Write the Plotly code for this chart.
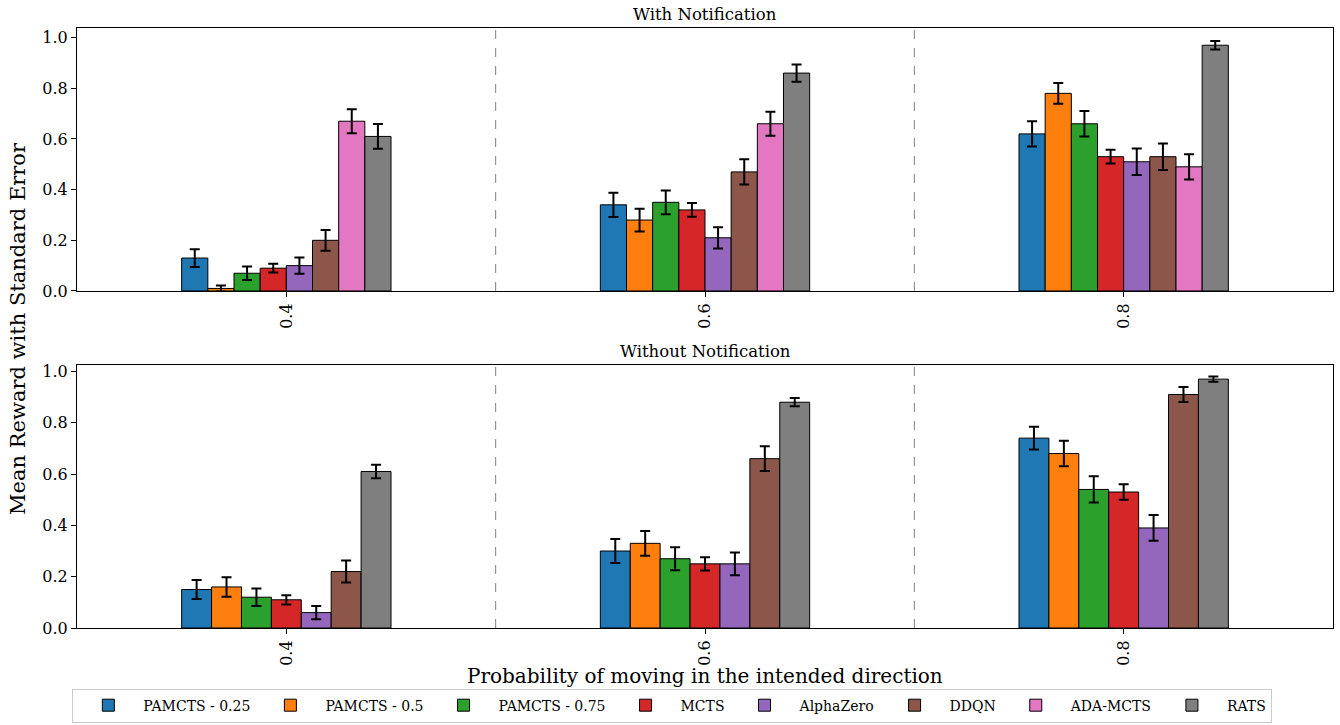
import plotly.graph_objects as go
from plotly.subplots import make_subplots

groups = ["0.4", "0.6", "0.8"]
methods_top = ["PAMCTS - 0.25", "PAMCTS - 0.5", "PAMCTS - 0.75", "MCTS", "AlphaZero", "DDQN", "ADA-MCTS", "RATS"]
colors = {"PAMCTS - 0.25": "#1f77b4", "PAMCTS - 0.5": "#ff7f0e", "PAMCTS - 0.75": "#2ca02c",
          "MCTS": "#d62728", "AlphaZero": "#9467bd", "DDQN": "#8c564b", "ADA-MCTS": "#e377c2", "RATS": "#7f7f7f"}

# With Notification (top)
top_mean = {
    "PAMCTS - 0.25": [0.13, 0.34, 0.62],
    "PAMCTS - 0.5": [0.01, 0.28, 0.78],
    "PAMCTS - 0.75": [0.07, 0.35, 0.66],
    "MCTS": [0.09, 0.32, 0.53],
    "AlphaZero": [0.10, 0.21, 0.51],
    "DDQN": [0.20, 0.47, 0.53],
    "ADA-MCTS": [0.67, 0.66, 0.49],
    "RATS": [0.61, 0.86, 0.97],
}
top_err = {
    "PAMCTS - 0.25": [0.035, 0.048, 0.05],
    "PAMCTS - 0.5": [0.012, 0.045, 0.041],
    "PAMCTS - 0.75": [0.027, 0.047, 0.05],
    "MCTS": [0.017, 0.027, 0.027],
    "AlphaZero": [0.032, 0.042, 0.052],
    "DDQN": [0.041, 0.05, 0.052],
    "ADA-MCTS": [0.047, 0.047, 0.05],
    "RATS": [0.049, 0.034, 0.017],
}

# Without Notification (bottom)
methods_bottom = ["PAMCTS - 0.25", "PAMCTS - 0.5", "PAMCTS - 0.75", "MCTS", "AlphaZero", "DDQN", "RATS"]
bot_mean = {
    "PAMCTS - 0.25": [0.15, 0.30, 0.74],
    "PAMCTS - 0.5": [0.16, 0.33, 0.68],
    "PAMCTS - 0.75": [0.12, 0.27, 0.54],
    "MCTS": [0.11, 0.25, 0.53],
    "AlphaZero": [0.06, 0.25, 0.39],
    "DDQN": [0.22, 0.66, 0.91],
    "RATS": [0.61, 0.88, 0.97],
}
bot_err = {
    "PAMCTS - 0.25": [0.037, 0.047, 0.044],
    "PAMCTS - 0.5": [0.038, 0.048, 0.05],
    "PAMCTS - 0.75": [0.034, 0.045, 0.051],
    "MCTS": [0.018, 0.026, 0.03],
    "AlphaZero": [0.026, 0.044, 0.05],
    "DDQN": [0.043, 0.048, 0.029],
    "RATS": [0.026, 0.016, 0.01],
}

FONT = "DejaVu Serif"

fig = make_subplots(rows=2, cols=1, vertical_spacing=0.1234)

for m in methods_top:
    fig.add_trace(go.Bar(
        x=groups, y=top_mean[m], name=m, legendgroup=m,
        marker=dict(color=colors[m], line=dict(color="black", width=1)),
        error_y=dict(type="data", array=top_err[m], color="black", thickness=2, width=5),
    ), row=1, col=1)

for m in methods_bottom:
    fig.add_trace(go.Bar(
        x=groups, y=bot_mean[m], name=m, legendgroup=m, showlegend=False,
        marker=dict(color=colors[m], line=dict(color="black", width=1)),
        error_y=dict(type="data", array=bot_err[m], color="black", thickness=2, width=5),
    ), row=2, col=1)

axis_common = dict(showline=True, linecolor="black", linewidth=1, mirror=True,
                   ticks="outside", ticklen=5, tickcolor="black", showgrid=False, zeroline=False,
                   automargin=False,
                   tickfont=dict(family=FONT, size=16, color="black"))

fig.update_xaxes(**axis_common, type="category", range=[-0.5, 2.5], tickangle=-90)
fig.update_yaxes(**axis_common, dtick=0.2, tickformat=".1f")
fig.update_yaxes(range=[0, 1.038], domain=[0.5617, 1.0], row=1, col=1)
fig.update_yaxes(range=[0, 1.025], domain=[0.0, 0.4383], row=2, col=1)

# dashed separators between groups
for xr, yr in [("x", "y"), ("x2", "y2")]:
    for xv in [0.5, 1.5]:
        fig.add_shape(type="line", xref=xr, yref=yr + " domain", x0=xv, x1=xv, y0=0, y1=1,
                      line=dict(color="gray", width=1, dash="dash"))

fig.add_annotation(text="With Notification", xref="paper", yref="paper", x=0.5, y=1.0,
                   yanchor="bottom", yshift=2, showarrow=False,
                   font=dict(family=FONT, size=16.5, color="black"))
fig.add_annotation(text="Without Notification", xref="paper", yref="paper", x=0.5, y=0.4383,
                   yanchor="bottom", yshift=2, showarrow=False,
                   font=dict(family=FONT, size=16.5, color="black"))
fig.add_annotation(text="Probability of moving in the intended direction", xref="paper", yref="paper",
                   x=0.5, y=-0.08, yanchor="middle", showarrow=False,
                   font=dict(family=FONT, size=20, color="black"))
fig.add_annotation(text="Mean Reward with Standard Error", xref="paper", yref="paper",
                   x=-0.047, y=0.5, xanchor="center", yanchor="middle", textangle=-90, showarrow=False,
                   font=dict(family=FONT, size=21, color="black"))

fig.update_layout(
    width=1340, height=725, autosize=False,
    margin=dict(l=77, r=7, t=28, b=97, autoexpand=False),
    paper_bgcolor="white", plot_bgcolor="white",
    barmode="group", bargap=0.5, bargroupgap=0,
    font=dict(family=FONT, color="black"),
    legend=dict(orientation="h", x=0.474, xanchor="center", y=-0.101, yanchor="top",
                bordercolor="#cccccc", borderwidth=1, itemwidth=60,
                font=dict(family=FONT, size=14, color="black"), traceorder="normal"),
)

fig.write_html("out.html", config={"displayModeBar": False},
               post_script="document.body.style.margin='0';document.body.style.overflow='hidden';")
